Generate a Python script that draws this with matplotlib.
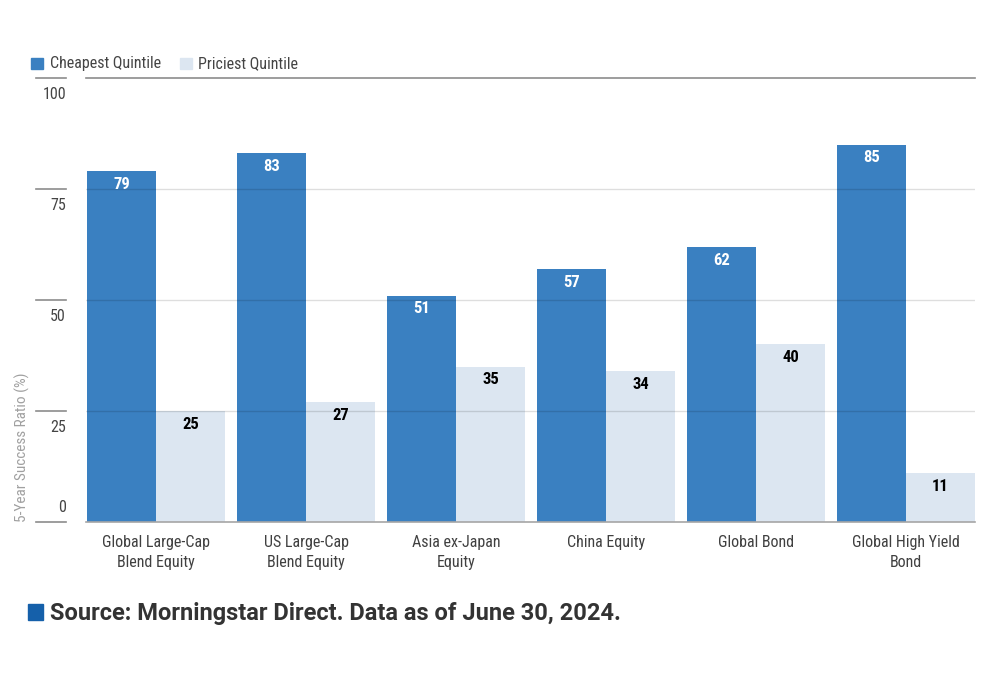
import matplotlib
matplotlib.use("Agg")
import matplotlib.pyplot as plt
import matplotlib.transforms as mtransforms
from matplotlib import font_manager
import numpy as np

categories = ["Global Large-Cap\nBlend Equity", "US Large-Cap\nBlend Equity",
              "Asia ex-Japan\nEquity", "China Equity", "Global Bond",
              "Global High Yield\nBond"]
cheapest = [79, 83, 51, 57, 62, 85]
priciest = [25, 27, 35, 34, 40, 11]
y_ticks = [0, 25, 50, 75, 100]

# look for a narrow face, the original uses a condensed font
names = {f.name for f in font_manager.fontManager.ttflist}
narrow = [n for n in ["Roboto Condensed", "Liberation Sans Narrow",
                      "DejaVu Sans Condensed", "Noto Sans Condensed",
                      "Open Sans Condensed"] if n in names]
cond_stretch = "normal"
if not narrow:
    for f in font_manager.fontManager.ttflist:
        if "ondensed" in str(f.stretch) or f.stretch in ("condensed", "semi-condensed"):
            narrow = [f.name]
            cond_stretch = f.stretch
            break
fam = narrow + ["Roboto", "DejaVu Sans"]
plt.rcParams['font.family'] = fam
plt.rcParams['font.stretch'] = cond_stretch if narrow else "normal"
small = 11.5 if narrow else 10.5
cat_size = 11 if narrow else 10

blue = "#3a80c1"
light = "#dce6f1"

fig = plt.figure(figsize=(10, 6.8), dpi=100)
ax = fig.add_axes([0.086, 0.2324, 0.889, 0.6529])

x = np.arange(len(categories))
w = 0.46
ax.bar(x - w / 2, cheapest, width=w, color=blue, zorder=2)
ax.bar(x + w / 2, priciest, width=w, color=light, zorder=2)

for xi, v in zip(x, cheapest):
    ax.text(xi - w / 2, v - 3.0, str(v), ha="center", va="center",
            color="white", fontsize=small + 0.5, fontweight="bold", zorder=4)
for xi, v in zip(x, priciest):
    ax.text(xi + w / 2, v - 3.0, str(v), ha="center", va="center",
            color="black", fontsize=small + 0.5, fontweight="bold", zorder=4)

ax.set_xlim(-0.467, 5.46)
ax.set_ylim(0, 100)
for sp in ax.spines.values():
    sp.set_visible(False)
ax.set_xticks([])
ax.set_yticks([])

# gridlines over the bars
for t in y_ticks:
    if t == 100:
        ax.axhline(t, color="#8c8c8c", lw=1.2, zorder=3, clip_on=False)
    elif t == 0:
        ax.axhline(t, color="#a6a6a6", lw=1.2, zorder=3, clip_on=False)
    else:
        ax.axhline(t, color="black", alpha=0.13, lw=1.0, zorder=3)

# left tick marks and labels
trans = mtransforms.blended_transform_factory(fig.transFigure, ax.transData)
for t in y_ticks:
    ax.plot([0.036, 0.066], [t, t], color="#8c8c8c", lw=1.2,
            transform=trans, clip_on=False)
    if t == 0:
        ax.text(0.066, 1.5, str(t), transform=trans, ha="right", va="bottom",
                fontsize=small, color="#444444")
    else:
        ax.text(0.066, t - 2.0, str(t), transform=trans, ha="right", va="top",
                fontsize=small, color="#444444")

ax.text(0.022, 0, "5-Year Success Ratio (%)", transform=trans, rotation=90,
        ha="center", va="bottom", fontsize=small - 0.5, color="#a0a0a0")

# category labels
for xi, c in zip(x, categories):
    ax.text(xi, -3.0, c, ha="center", va="top", fontsize=cat_size + 0.5,
            color="#404040", linespacing=1.4)

# legend
fig.patches.append(plt.Rectangle((0.031, 0.8985), 0.012, 0.0165, color=blue,
                                 transform=fig.transFigure))
fig.text(0.050, 0.907, "Cheapest Quintile", fontsize=small, color="#444444",
         va="center")
fig.patches.append(plt.Rectangle((0.180, 0.8985), 0.012, 0.0165, color=light,
                                 transform=fig.transFigure))
fig.text(0.198, 0.907, "Priciest Quintile", fontsize=small, color="#444444",
         va="center")

# source
fig.patches.append(plt.Rectangle((0.028, 0.0882), 0.015, 0.0235, color="#1560aa",
                                 transform=fig.transFigure))
fig.text(0.050, 0.0985, "Source: Morningstar Direct. Data as of June 30, 2024.",
         fontsize=17, fontweight="bold", color="#333333", va="center",
         family=["Roboto", "DejaVu Sans"], stretch="normal")

fig.savefig("out.png", dpi=100)
